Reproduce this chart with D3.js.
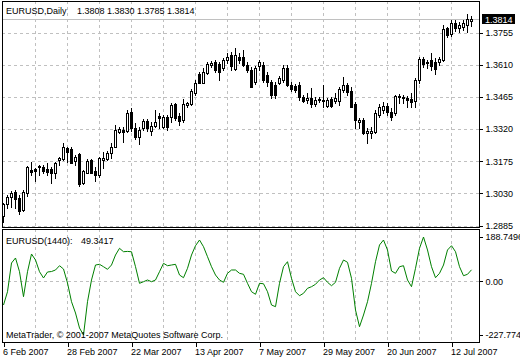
<!DOCTYPE html>
<html><head><meta charset="utf-8">
<script src="https://cdn.jsdelivr.net/npm/d3@7"></script>
<style>
body{margin:0;background:#fff;}
svg text{font-family:"Liberation Sans",Arial,sans-serif;font-size:9px;fill:#000;}
</style></head><body>
<svg id="c" width="520" height="360"></svg>
<script>
const symbolName = "EURUSD,Daily";
const indicatorName = "EURUSD(1440):";
const copyrightText = "MetaTrader, \u00A9 2001-2007 MetaQuotes Software Corp.";
const xTickLabels = ["6 Feb 2007","28 Feb 2007","22 Mar 2007","13 Apr 2007","7 May 2007","29 May 2007","20 Jun 2007","12 Jul 2007"];
const priceTicks = [1.2885,1.3030,1.3175,1.3320,1.3465,1.3610,1.3755];
const cciTicks = [188.7496, 0, -227.774];
const cciTickLabels = ["188.7496","0.00","-227.774"];

const open = [1.2929,1.2980,1.3015,1.3037,1.3008,1.2956,1.3033,1.3136,1.3141,1.3150,
1.3150,1.3141,1.3141,1.3123,1.3181,1.3186,1.3236,1.3231,1.3177,1.3208,
1.3078,1.3123,1.3181,1.3132,1.3114,1.3181,1.3186,1.3213,1.3240,1.3308,
1.3317,1.3312,1.3398,1.3326,1.3285,1.3326,1.3357,1.3312,1.3335,1.3380,
1.3330,1.3375,1.3375,1.3434,1.3380,1.3362,1.3429,1.3434,1.3484,1.3569,
1.3529,1.3574,1.3610,1.3623,1.3614,1.3596,1.3632,1.3655,1.3592,1.3646,
1.3646,1.3610,1.3587,1.3533,1.3605,1.3610,1.3565,1.3533,1.3520,1.3529,
1.3542,1.3596,1.3520,1.3515,1.3520,1.3466,1.3452,1.3461,1.3434,1.3457,
1.3448,1.3425,1.3457,1.3448,1.3448,1.3497,1.3520,1.3493,1.3434,1.3353,
1.3362,1.3303,1.3303,1.3308,1.3384,1.3407,1.3425,1.3398,1.3393,1.3470,
1.3461,1.3461,1.3457,1.3448,1.3542,1.3637,1.3619,1.3632,1.3623,1.3623,
1.3632,1.3777,1.3750,1.3799,1.3777,1.3781,1.3790,1.3808];
const high = [1.2988,1.3024,1.3042,1.3046,1.3024,1.3046,1.3153,1.3172,1.3145,1.3159,
1.3159,1.3168,1.3150,1.3172,1.3195,1.3258,1.3240,1.3240,1.3204,1.3213,
1.3136,1.3186,1.3186,1.3150,1.3195,1.3218,1.3222,1.3258,1.3339,1.3330,
1.3330,1.3407,1.3416,1.3348,1.3330,1.3366,1.3366,1.3353,1.3407,1.3393,
1.3384,1.3384,1.3438,1.3438,1.3393,1.3457,1.3443,1.3502,1.3542,1.3578,
1.3596,1.3623,1.3628,1.3632,1.3623,1.3641,1.3664,1.3668,1.3687,1.3664,
1.3678,1.3623,1.3601,1.3605,1.3632,1.3623,1.3578,1.3542,1.3533,1.3560,
1.3610,1.3610,1.3533,1.3524,1.3533,1.3475,1.3484,1.3506,1.3466,1.3466,
1.3520,1.3461,1.3466,1.3484,1.3511,1.3556,1.3529,1.3511,1.3443,1.3371,
1.3371,1.3326,1.3330,1.3407,1.3434,1.3443,1.3438,1.3416,1.3475,1.3479,
1.3475,1.3470,1.3484,1.3551,1.3646,1.3646,1.3632,1.3664,1.3641,1.3646,
1.3790,1.3781,1.3813,1.3813,1.3804,1.3813,1.3840,1.3830];
const low = [1.2902,1.2965,1.2969,1.2965,1.2938,1.2951,1.3019,1.3114,1.3087,1.3114,
1.3123,1.3114,1.3078,1.3100,1.3159,1.3181,1.3172,1.3165,1.3159,1.3064,
1.3072,1.3120,1.3120,1.3087,1.3105,1.3145,1.3181,1.3190,1.3237,1.3303,
1.3263,1.3308,1.3312,1.3276,1.3254,1.3317,1.3312,1.3294,1.3330,1.3326,
1.3326,1.3317,1.3353,1.3362,1.3339,1.3353,1.3420,1.3429,1.3475,1.3526,
1.3526,1.3569,1.3601,1.3578,1.3542,1.3587,1.3619,1.3587,1.3587,1.3619,
1.3605,1.3578,1.3508,1.3524,1.3587,1.3533,1.3515,1.3461,1.3461,1.3524,
1.3533,1.3515,1.3493,1.3488,1.3452,1.3443,1.3438,1.3420,1.3425,1.3443,
1.3420,1.3420,1.3420,1.3438,1.3429,1.3488,1.3475,1.3417,1.3326,1.3326,
1.3299,1.3258,1.3281,1.3303,1.3375,1.3393,1.3384,1.3362,1.3384,1.3438,
1.3438,1.3420,1.3420,1.3420,1.3529,1.3601,1.3596,1.3587,1.3569,1.3610,
1.3628,1.3736,1.3741,1.3763,1.3759,1.3768,1.3759,1.3785];
const close = [1.2983,1.3015,1.3033,1.3006,1.2951,1.3037,1.3150,1.3127,1.3132,1.3154,
1.3132,1.3127,1.3123,1.3168,1.3190,1.3240,1.3218,1.3168,1.3195,1.3073,
1.3132,1.3177,1.3123,1.3114,1.3190,1.3190,1.3213,1.3240,1.3317,1.3321,
1.3308,1.3393,1.3326,1.3285,1.3317,1.3357,1.3326,1.3335,1.3353,1.3371,
1.3375,1.3330,1.3429,1.3371,1.3357,1.3434,1.3438,1.3493,1.3529,1.3529,
1.3578,1.3614,1.3619,1.3587,1.3578,1.3632,1.3646,1.3605,1.3655,1.3632,
1.3610,1.3587,1.3511,1.3596,1.3623,1.3542,1.3533,1.3475,1.3475,1.3551,
1.3596,1.3520,1.3502,1.3497,1.3466,1.3448,1.3461,1.3434,1.3452,1.3452,
1.3452,1.3452,1.3425,1.3461,1.3502,1.3520,1.3488,1.3420,1.3362,1.3362,
1.3303,1.3312,1.3312,1.3393,1.3420,1.3425,1.3398,1.3375,1.3470,1.3466,
1.3466,1.3452,1.3443,1.3542,1.3637,1.3614,1.3623,1.3605,1.3592,1.3637,
1.3772,1.3745,1.3799,1.3777,1.3790,1.3799,1.3817,1.3814];
const cci = [-100.3,-43.8,78.2,99.5,41.2,-65,41.2,116.5,91,41.2,
14.5,40,42,48.5,66.7,52.7,-6.8,-86.3,-134.3,-198,
-227.774,-86.3,6,69.7,72.7,62.5,51.4,69.7,112.2,140.7,
126.2,127.5,126,62.5,-8.1,-1.3,6,-1.3,6,41.2,
76.9,66.7,69.7,72.7,27.2,15.7,55.7,112.2,151.7,176,
147.5,105,62.5,27.2,6,-3.8,34.4,48.5,48.5,34.4,
30.2,-8.1,-43.8,-54.8,-8.1,-10,-43.8,-100.3,-107.5,-8.1,
62.5,83.7,13.2,-43.8,-60.8,-50.6,-29.3,-22.5,-12.3,6,
15.7,-3.8,-18.3,-3.8,55.7,91,81.2,13.2,-121.6,-192.5,
-142.8,-86.3,-8.1,83.7,154.7,176,133.5,44.2,34.4,62.5,
66.7,6,-22.5,55.7,140.7,188.7496,133.5,62.5,15.7,34.4,
69.7,133.5,151.7,126.2,62.5,24.2,30.2,49.3417];

const svg = d3.select("#c");
const L = 2, R = 479, mainTop = 1, mainBot = 227, indTop = 229, indBot = 342;
const n = close.length;
const x = d3.scaleLinear().domain([0, n - 1]).range([3, 3 + 4 * (n - 1)]);
const y = d3.scaleLinear().domain([1.2885, 1.3755]).range([225.5, 32.5]);
const yc = d3.scaleLinear().domain([-227.774, 188.7496]).range([335, 237]);
const px = v => Math.round(v);

svg.append("rect").attr("width",520).attr("height",360).attr("fill","#fff");

// grid
const gridColor = "#c0c0c0";
const vGrid = d3.range(8, n, 8);
const g = svg.append("g").attr("stroke", gridColor).attr("stroke-dasharray","3,3").attr("shape-rendering","crispEdges");
priceTicks.forEach(t => g.append("line").attr("x1",L).attr("x2",R).attr("y1",px(y(t))+0.5).attr("y2",px(y(t))+0.5));
g.append("line").attr("x1",L).attr("x2",R).attr("y1",px(yc(0))+0.5).attr("y2",px(yc(0))+0.5);
vGrid.forEach(i => {
  g.append("line").attr("x1",px(x(i))+0.5).attr("x2",px(x(i))+0.5).attr("y1",mainTop).attr("y2",mainBot);
  g.append("line").attr("x1",px(x(i))+0.5).attr("x2",px(x(i))+0.5).attr("y1",indTop).attr("y2",indBot);
});

// bid line
const last = n - 1;
svg.append("line").attr("x1",L).attr("x2",R).attr("y1",px(y(close[last]))+0.5).attr("y2",px(y(close[last]))+0.5)
  .attr("stroke","#c0c0c0").attr("shape-rendering","crispEdges");

// candles
const cg = svg.append("g").attr("shape-rendering","crispEdges");
d3.range(n).forEach(i => {
  const c = px(x(i));
  const yh = px(y(high[i])), yl = px(y(low[i]));
  const yo = px(y(open[i])), ycl = px(y(close[i]));
  cg.append("line").attr("x1",c+0.5).attr("x2",c+0.5).attr("y1",yh).attr("y2",yl+1).attr("stroke","#000");
  const top = Math.min(yo, ycl), bot = Math.max(yo, ycl);
  if (close[i] > open[i]) {
    cg.append("rect").attr("x",c-0.5).attr("y",top+0.5).attr("width",2).attr("height",Math.max(bot-top,1))
      .attr("fill","#fff").attr("stroke","#000");
  } else {
    cg.append("rect").attr("x",c-1).attr("y",top).attr("width",3).attr("height",Math.max(bot-top+1,1)).attr("fill","#000");
  }
});

// cci line
svg.append("path").datum(cci)
  .attr("d", d3.line().x((d,i)=>px(x(i))+0.5).y(d=>yc(d)))
  .attr("fill","none").attr("stroke","#008000").attr("stroke-width",1);

// frames
const fr = svg.append("g").attr("fill","none").attr("stroke","#000").attr("shape-rendering","crispEdges");
fr.append("rect").attr("x",L+0.5).attr("y",mainTop+0.5).attr("width",R-L).attr("height",mainBot-mainTop);
fr.append("rect").attr("x",L+0.5).attr("y",indTop+0.5).attr("width",R-L).attr("height",indBot-indTop);

// price axis
const pa = svg.append("g").attr("transform",`translate(${R+0.5},0)`)
  .call(d3.axisRight(y).tickValues(priceTicks).tickFormat(d3.format(".4f")).tickSize(3).tickPadding(3));
pa.select(".domain").remove();
pa.selectAll("line").attr("stroke","#000").attr("shape-rendering","crispEdges");
pa.selectAll("text").attr("font-size",9).attr("font-family","Liberation Sans, Arial, sans-serif").attr("fill","#000");

// cci axis
const ca = svg.append("g").attr("transform",`translate(${R+0.5},0)`)
  .call(d3.axisRight(yc).tickValues(cciTicks).tickFormat((d,i)=>cciTickLabels[i]).tickSize(3).tickPadding(3));
ca.select(".domain").remove();
ca.selectAll("line").attr("stroke","#000").attr("shape-rendering","crispEdges");
ca.selectAll("text").attr("font-size",9).attr("font-family","Liberation Sans, Arial, sans-serif").attr("fill","#000");

// time axis
const tickIdx = xTickLabels.map((d,i)=>i*16);
const ta = svg.append("g").attr("transform",`translate(0.5,${indBot+0.5})`)
  .call(d3.axisBottom(d3.scaleLinear().domain(x.domain()).range([px(x(0)), px(x(n-1))]))
    .tickValues(tickIdx).tickFormat((d,i)=>xTickLabels[i]).tickSize(4).tickPadding(2));
ta.select(".domain").remove();
ta.selectAll("line").attr("stroke","#000").attr("shape-rendering","crispEdges");
ta.selectAll("text").attr("text-anchor","start").attr("dx",-1).attr("font-size",9)
  .attr("font-family","Liberation Sans, Arial, sans-serif").attr("fill","#000");

// current price label
const by = px(y(close[last]));
svg.append("rect").attr("x",482).attr("y",by-5).attr("width",33).attr("height",10).attr("fill","#000");
svg.append("text").attr("x",485).attr("y",by+3.5).attr("fill","#fff").style("fill","#fff").text(d3.format(".4f")(close[last]));

// titles
svg.append("text").attr("x",6).attr("y",13.5).text(symbolName);
svg.append("text").attr("x",77).attr("y",13.5).text([open[last],high[last],low[last],close[last]].map(d3.format(".4f")).join(" "));
svg.append("text").attr("x",6).attr("y",243.5).text(indicatorName);
svg.append("text").attr("x",81).attr("y",243.5).text(d3.format(".4f")(cci[last]));
svg.append("text").attr("x",6).attr("y",338).text(copyrightText);
</script>
</body></html>
